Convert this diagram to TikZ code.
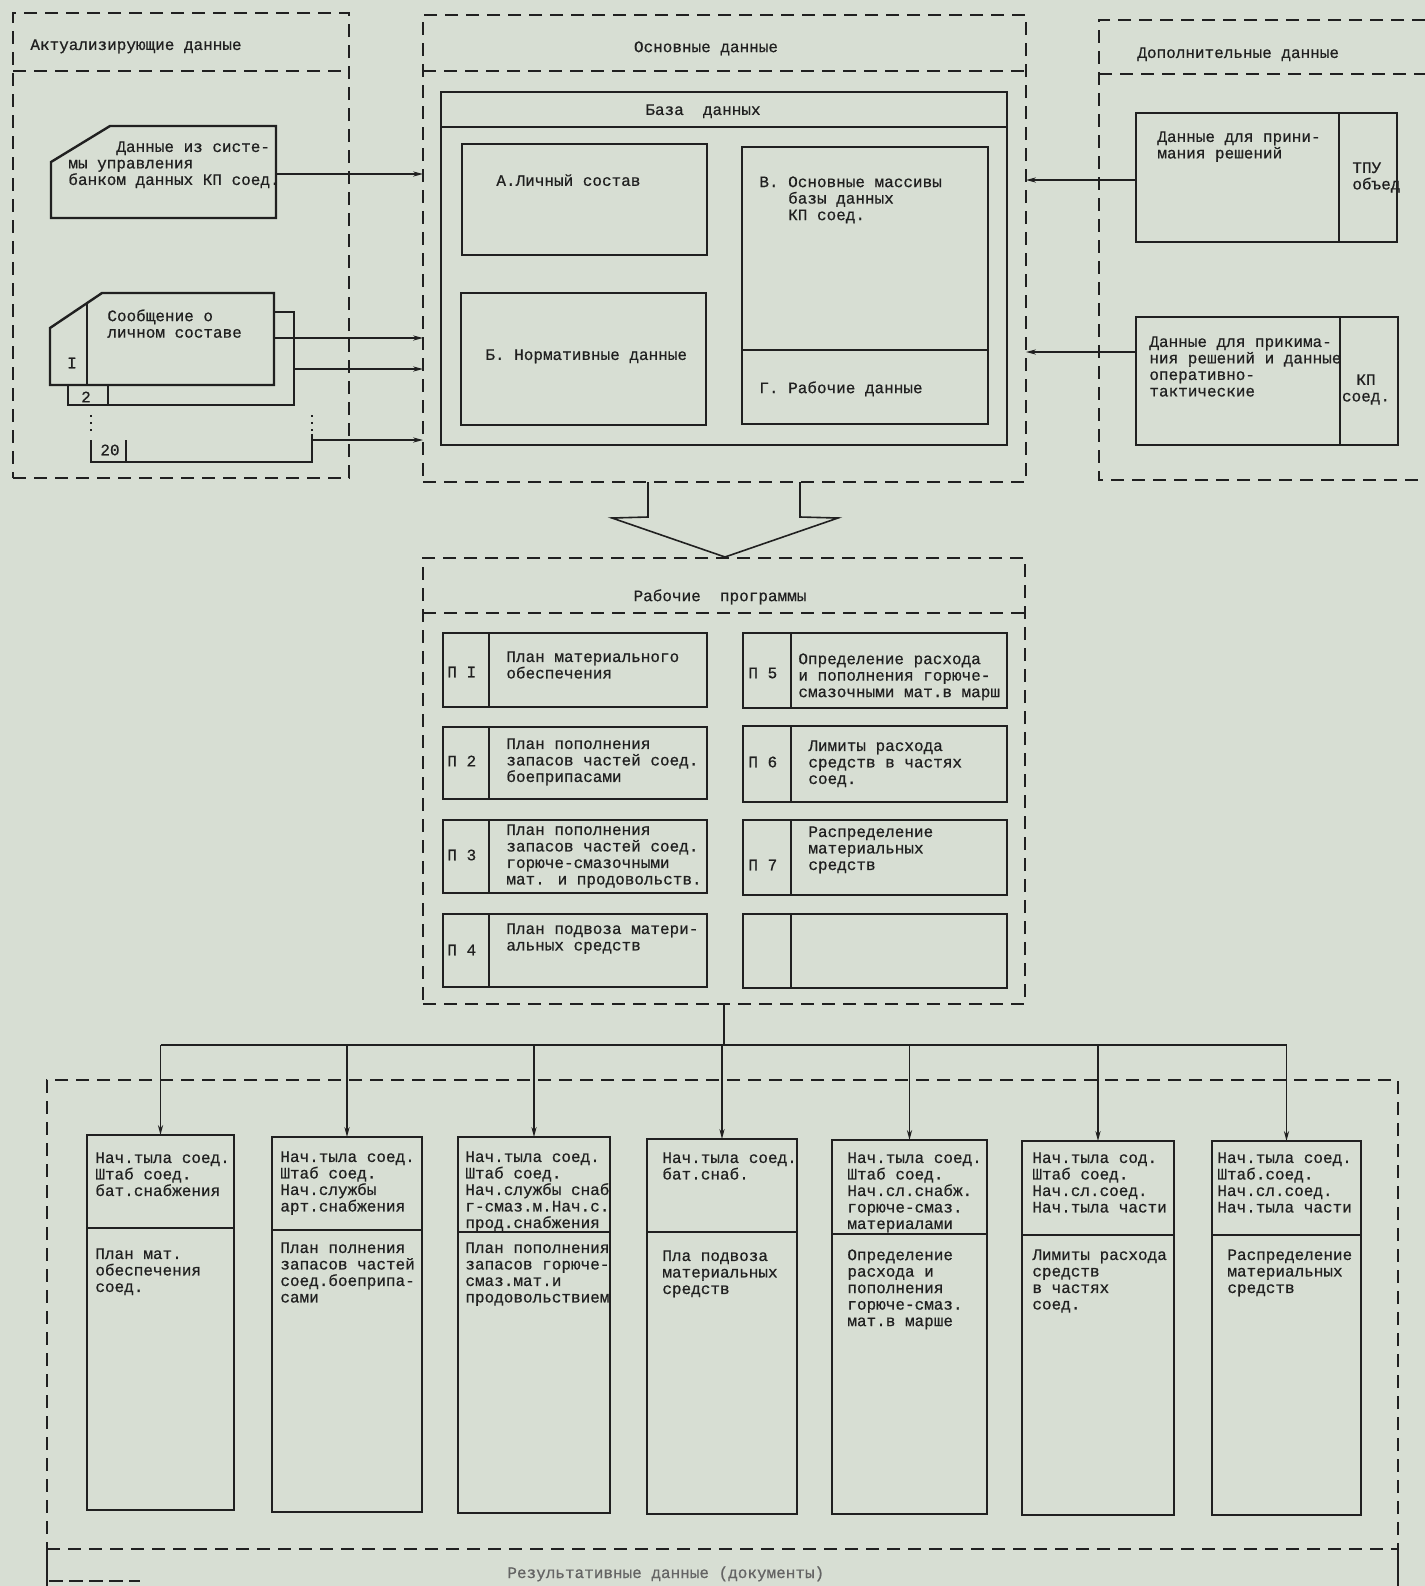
\documentclass[tikz,border=0pt]{standalone}
\usepackage{fontspec}
\newfontfamily\twfam[FakeBold=0.6]{Liberation Mono}
\usetikzlibrary{arrows.meta}
\definecolor{paper}{RGB}{215,222,211}
\definecolor{ink}{RGB}{32,32,32}
\definecolor{faded}{RGB}{100,100,100}
\newcommand\tws{\twfam\fontsize{8pt}{8.25pt}\selectfont}
\newcommand\rbox[6]{\node[#6,anchor=north west,minimum width={(#4-#2)*0.5pt},minimum height={(#5-#3)*0.5pt}] (#1) at (#2,#3) {};}
\begin{document}
\begin{tikzpicture}[x=0.5pt,y=-0.5pt,
 sbox/.style={draw=ink,line width=1.2pt,inner sep=0pt,outer sep=0pt},
 dbox/.style={draw=ink,line width=0.7pt,dash pattern=on 6.5pt off 4pt,inner sep=0pt,outer sep=0pt},
 dline/.style={draw=ink,line width=0.7pt,dash pattern=on 6.5pt off 4pt},
 sline/.style={draw=ink,line width=1.2pt,line join=miter},
 conn/.style={draw=ink,line width=0.7pt},
 arr/.style={conn,-{Stealth[length=5pt,width=2.6pt]}},
 txt/.style={anchor=north west,inner sep=0pt,align=left,font=\tws,text=ink},
 ctxt/.style={inner sep=0pt,align=center,font=\tws,text=ink},
 lbl/.style={anchor=west,inner sep=0pt,font=\tws,text=ink},
]
\fill[paper] (0,0) rectangle (1425,1586);
\useasboundingbox (0,0) rectangle (1425,1586);

% ---------- Актуализирующие данные ----------
\rbox{akt}{13}{13}{349}{478}{dbox}
\draw[dline] (akt.west |- 0,71) -- (akt.east |- 0,71);
\node[txt] (t-akt) at (30,39) {Актуализирующие данные};

% card 1
\draw[sline] (51,218) -- (51,162) -- (110,126) -- (276,126) -- (276,218) -- cycle;
\coordinate (c1) at (276,174);
\node[txt] (t-c1) at (68,141) {\phantom{ххххх}Данные из систе-\\мы управления\\банком данных КП соед.};

% card stack 2
\draw[sline] (50,385) -- (50,328) -- (102,293) -- (274,293) -- (274,385) -- cycle;
\draw[sline] (87,303) -- (87,385);
\draw[sline] (274,312) -- (294,312) -- (294,405) -- (68,405) -- (68,385);
\draw[sline] (108,385) -- (108,405);
\draw[conn,dash pattern=on 1pt off 2.5pt] (91,415) -- (91,434);
\draw[conn,dash pattern=on 1pt off 2.5pt] (312,415) -- (312,434);
\draw[sline] (91,440) -- (91,462) -- (312,462) -- (312,434);
\draw[sline] (126,440) -- (126,462);
\node[txt] (t-c2) at (107,309) {Сообщение о\\личном составе};
\node[ctxt] (t-n1) at (72,363) {I};
\node[ctxt] (t-n2) at (86,397) {2};
\node[ctxt] (t-n20) at (110,450) {20};
\coordinate (c2a) at (274,338);
\coordinate (c2b) at (294,369);
\coordinate (c20) at (312,440);

% ---------- Основные данные ----------
\rbox{osn}{423}{15}{1026}{482}{dbox}
\draw[dline] (osn.west |- 0,71) -- (osn.east |- 0,71);
\node[ctxt,anchor=north] (t-osn) at (706,41) {Основные данные};

\rbox{baza}{441}{92}{1007}{445}{sbox}
\draw[sline] (baza.west |- 0,127) -- (baza.east |- 0,127);
\node[ctxt,anchor=north] (t-baza) at (703,104) {База\ \ данных};

\rbox{bA}{462}{144}{707}{255}{sbox}
\node[txt] (t-A) at (496,174) {А.Личный состав};
\rbox{bB}{461}{293}{706}{425}{sbox}
\node[txt] (t-B) at (485,349) {Б. Нормативные данные};
\rbox{bV}{742}{147}{988}{424}{sbox}
\draw[sline] (bV.west |- 0,350) -- (bV.east |- 0,350);
\node[txt] (t-V) at (759,176) {В. Основные массивы\\\phantom{ххх}базы данных\\\phantom{ххх}КП соед.};
\node[txt] (t-G) at (759,381) {Г. Рабочие данные};

\draw[arr] (c1) -- (c1 -| osn.west);
\draw[arr] (c2a) -- (c2a -| osn.west);
\draw[arr] (c2b) -- (c2b -| osn.west);
\draw[arr] (c20) -- (c20 -| osn.west);

% ---------- Дополнительные данные ----------
\coordinate (dopTL) at (1099,20);
\draw[dline] (1425,20) -- (dopTL) -- (1099,480) -- (1425,480);
\draw[dline] (1099,74) -- (1425,74);
\node[txt] (t-dop) at (1137,47) {Дополнительные данные};

\rbox{tpu}{1136}{113}{1397}{242}{sbox}
\draw[sline] (tpu.north -| 1339,0) -- (tpu.south -| 1339,0);
\node[txt] (t-tpu) at (1157,131) {Данные для прини-\\мания решений};
\node[txt] (t-tpu2) at (1352,162) {ТПУ\\объед};
\rbox{kp}{1136}{317}{1398}{445}{sbox}
\draw[sline] (kp.north -| 1340,0) -- (kp.south -| 1340,0);
\node[txt] (t-kp) at (1149,336) {Данные для прикима-\\ния решений и данные\\оперативно-\\тактические};
\node[ctxt,anchor=north] (t-kp2) at (1366,374) {КП\\соед.};

\draw[arr] (tpu.west |- 0,180) -- (osn.east |- 0,180);
\draw[arr] (kp.west |- 0,352) -- (osn.east |- 0,352);

% ---------- block arrow ----------
\draw[conn,line width=0.8pt,line join=miter] (648,482) -- (648,517) -- (612,518) -- (725,557) -- (838,518) -- (800,517) -- (800,482);

% ---------- Рабочие программы ----------
\rbox{rab}{423}{558}{1025}{1004}{dbox}
\draw[dline] (rab.west |- 0,613) -- (rab.east |- 0,613);
\node[ctxt,anchor=north] (t-rab) at (720,589) {Рабочие\ \ программы};

\rbox{p1}{443}{633}{707}{707}{sbox}
\draw[sline] (p1.north -| 489,0) -- (p1.south -| 489,0);
\node[lbl] (l-p1) at (447,672) {П I};
\node[txt] (t-p1) at (506,651) {План материального\\обеспечения};

\rbox{p2}{443}{727}{707}{799}{sbox}
\draw[sline] (p2.north -| 489,0) -- (p2.south -| 489,0);
\node[lbl] (l-p2) at (447,761) {П 2};
\node[txt] (t-p2) at (506,738) {План пополнения\\запасов частей соед.\\боеприпасами};

\rbox{p3}{443}{820}{707}{893}{sbox}
\draw[sline] (p3.north -| 489,0) -- (p3.south -| 489,0);
\node[lbl] (l-p3) at (447,855) {П 3};
\node[txt] (t-p3) at (506,824) {План пополнения\\запасов частей соед.\\горюче-смазочными\\мат. и продовольств.};

\rbox{p4}{443}{914}{707}{987}{sbox}
\draw[sline] (p4.north -| 489,0) -- (p4.south -| 489,0);
\node[lbl] (l-p4) at (447,950) {П 4};
\node[txt] (t-p4) at (506,923) {План подвоза матери-\\альных средств};

\rbox{p5}{743}{633}{1007}{708}{sbox}
\draw[sline] (p5.north -| 791,0) -- (p5.south -| 791,0);
\node[lbl] (l-p5) at (748,673) {П 5};
\node[txt] (t-p5) at (798,653) {Определение расхода\\и пополнения горюче-\\смазочными мат.в марш};

\rbox{p6}{743}{726}{1007}{802}{sbox}
\draw[sline] (p6.north -| 791,0) -- (p6.south -| 791,0);
\node[lbl] (l-p6) at (748,762) {П 6};
\node[txt] (t-p6) at (808,740) {Лимиты расхода\\средств в частях\\соед.};

\rbox{p7}{743}{820}{1007}{895}{sbox}
\draw[sline] (p7.north -| 791,0) -- (p7.south -| 791,0);
\node[lbl] (l-p7) at (748,865) {П 7};
\node[txt] (t-p7) at (808,826) {Распределение\\материальных\\средств};

\rbox{p8}{743}{914}{1007}{988}{sbox}
\draw[sline] (p8.north -| 791,0) -- (p8.south -| 791,0);

% ---------- Результативные данные ----------
\rbox{res}{47}{1080}{1398}{1549}{dbox}
\draw[conn] (res.south west) -- (47,1586);
\draw[conn] (res.south east) -- (1398,1586);
\draw[ink,line width=1.4pt,dash pattern=on 7pt off 3pt] (49,1581) -- (140,1581);
\node[txt,text=faded] (t-res) at (507,1566) {Результативные данные (документы)};

\rbox{b1}{87}{1135}{234}{1510}{sbox}
\draw[sline] (b1.west |- 0,1228) -- (b1.east |- 0,1228);
\node[txt] (h-b1) at (95,1152) {Нач.тыла соед.\\Штаб соед.\\бат.снабжения};
\node[txt] (t-b1) at (95,1248) {План мат.\\обеспечения\\соед.};

\rbox{b2}{272}{1137}{422}{1512}{sbox}
\draw[sline] (b2.west |- 0,1230) -- (b2.east |- 0,1230);
\node[txt] (h-b2) at (280,1151) {Нач.тыла соед.\\Штаб соед.\\Нач.службы\\арт.снабжения};
\node[txt] (t-b2) at (280,1242) {План полнения\\запасов частей\\соед.боеприпа-\\сами};

\rbox{b3}{458}{1137}{610}{1513}{sbox}
\draw[sline] (b3.west |- 0,1232) -- (b3.east |- 0,1232);
\node[txt] (h-b3) at (465,1151) {Нач.тыла соед.\\Штаб соед.\\Нач.службы снаб\\г-смаз.м.Нач.с.\\прод.снабжения};
\node[txt] (t-b3) at (465,1242) {План пополнения\\запасов горюче-\\смаз.мат.и\\продовольствием};

\rbox{b4}{647}{1139}{797}{1514}{sbox}
\draw[sline] (b4.west |- 0,1232) -- (b4.east |- 0,1232);
\node[txt] (h-b4) at (662,1152) {Нач.тыла соед.\\бат.снаб.};
\node[txt] (t-b4) at (662,1250) {Пла подвоза\\материальных\\средств};

\rbox{b5}{832}{1140}{987}{1514}{sbox}
\draw[sline] (b5.west |- 0,1234) -- (b5.east |- 0,1234);
\node[txt] (h-b5) at (847,1152) {Нач.тыла соед.\\Штаб соед.\\Нач.сл.снабж.\\горюче-смаз.\\материалами};
\node[txt] (t-b5) at (847,1249) {Определение\\расхода и\\пополнения\\горюче-смаз.\\мат.в марше};

\rbox{b6}{1022}{1141}{1174}{1515}{sbox}
\draw[sline] (b6.west |- 0,1235) -- (b6.east |- 0,1235);
\node[txt] (h-b6) at (1032,1152) {Нач.тыла сод.\\Штаб соед.\\Нач.сл.соед.\\Нач.тыла части};
\node[txt] (t-b6) at (1032,1249) {Лимиты расхода\\средств\\в частях\\соед.};

\rbox{b7}{1212}{1141}{1361}{1515}{sbox}
\draw[sline] (b7.west |- 0,1235) -- (b7.east |- 0,1235);
\node[txt] (h-b7) at (1217,1152) {Нач.тыла соед.\\Штаб.соед.\\Нач.сл.соед.\\Нач.тыла части};
\node[txt] (t-b7) at (1227,1249) {Распределение\\материальных\\средств};

% ---------- tree ----------
\coordinate (bus) at (0,1045);
\draw[conn] (rab.south) -- (rab.south |- bus);
\draw[conn] (b1.north |- bus) -- (b7.north |- bus);
\foreach \b in {b1,b2,b3,b4,b5,b6,b7}{
  \draw[arr] (\b.north |- bus) -- (\b.north);
}
\end{tikzpicture}
\end{document}
